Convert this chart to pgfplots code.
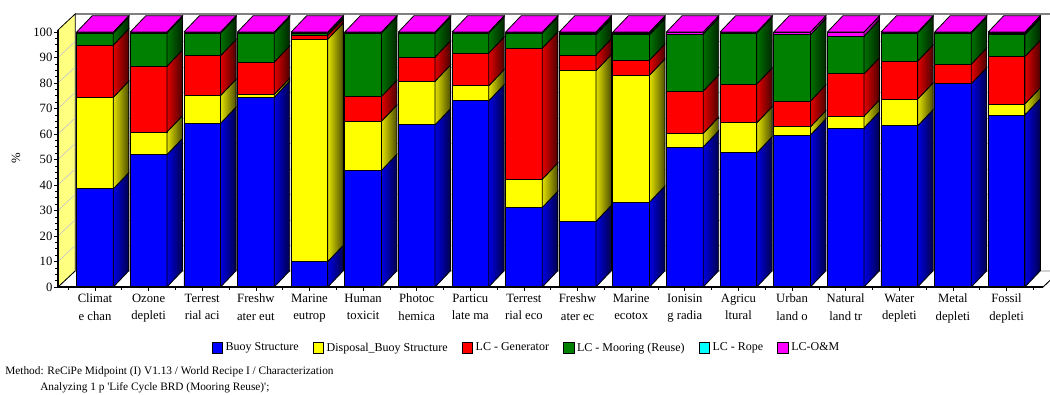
\documentclass[border=0pt]{standalone}
\usepackage{fontspec}
\setmainfont{Liberation Serif}
\usepackage{pgfplots}
\usepackage{pgfplotstable}
\pgfplotsset{compat=1.18}

\definecolor{cBuoy}{RGB}{0,0,255}
\definecolor{cDisp}{RGB}{255,255,0}
\definecolor{cGen}{RGB}{255,0,0}
\definecolor{cMoor}{RGB}{0,128,0}
\definecolor{cRope}{RGB}{0,255,255}
\definecolor{cOM}{RGB}{255,0,255}
\definecolor{wallyellow}{RGB}{255,255,128}
\definecolor{gridgray}{RGB}{200,200,200}
\definecolor{framegray}{RGB}{128,128,128}

% Characterization results, % of each impact category
\pgfplotstableread{
cat  bs    dbs   gen   moor  rope  om
0    38.5  35.9  20.5  4.7   0     0.4
1    51.9  8.9   25.8  13.0  0     0.4
2    64.2  10.9  15.6  8.9   0     0.4
3    74.4  1.1   12.7  11.4  0     0.4
4    10.0  87.2  1.6   0.8   0     0.4
5    45.7  19.3  9.7   24.9  0     0.4
6    63.6  17.1  9.5   9.4   0     0.4
7    73.0  5.9   12.8  7.9   0     0.4
8    31.2  11.1  51.4  5.9   0     0.4
9    25.7  59.1  6.2   7.9   0.7   0.4
10   33.3  49.8  5.9   9.9   0.7   0.4
11   54.9  5.3   16.6  22.4  0     0.8
12   52.6  11.8  15.2  20.0  0     0.4
13   59.6  3.2   10.1  26.0  0     1.1
14   62.4  4.6   16.6  14.8  0     1.6
15   63.2  10.5  14.9  11.0  0     0.4
16   79.7  0     7.7   12.2  0     0.4
17   67.5  4.3   18.6  8.5   0.5   0.6
}\lcadata

% bar half width and 3D depth (axis units)
\def\bw{0.342}
\def\dx{0.29}
\def\dy{6.4}

% one stacked segment: front face and shaded side face
\newcommand\stackseg[2]{%
  \pgfplotstablegetelem{\i}{#1}\of\lcadata
  \let\segval\pgfplotsretval
  \pgfmathsetmacro\ytop{\ybase+\segval}%
  \pgfmathsetmacro\ybb{\ybase+\dy}%
  \pgfmathsetmacro\ytb{\ytop+\dy}%
  \ifdim\segval pt>0.01pt
    \edef\temp{%
      \noexpand\addplot[forget plot, fill=#2, draw=black, line width=0.6pt]
        coordinates {(\xl,\ybase) (\xr,\ybase) (\xr,\ytop) (\xl,\ytop) (\xl,\ybase)};
      \noexpand\addplot[forget plot, left color=#2!88!black, right color=#2!30!black, draw=black, line width=0.6pt]
        coordinates {(\xr,\ybase) (\xs,\ybb) (\xs,\ytb) (\xr,\ytop) (\xr,\ybase)};
    }\temp
  \fi
  \let\ybase\ytop
}

\begin{document}
\begin{tikzpicture}
\useasboundingbox (0,0) rectangle (787.5pt,295.5pt);
\begin{axis}[
  at={(43.5pt,80.25pt)}, anchor=south west,
  scale only axis, width=738.75pt, height=192.75pt,
  xmin=-0.69, xmax=17.68, ymin=0, ymax=100.8,
  clip=false, axis on top,
  axis x line*=bottom, axis y line*=left,
  axis line style={line width=1.3pt, -},
  xtick={0,...,17},
  minor xtick={-0.5,0.5,...,17.5},
  xticklabels={{Climat\\e chan},{Ozone\\depleti},{Terrest\\rial aci},{Freshw\\ater eut},
    {Marine\\eutrop},{Human\\toxicit},{Photoc\\hemica},{Particu\\late ma},
    {Terrest\\rial eco},{Freshw\\ater ec},{Marine\\ecotox},{Ionisin\\g radia},
    {Agricu\\ltural},{Urban\\land o},{Natural\\land tr},{Water\\depleti},
    {Metal\\depleti},{Fossil\\depleti}},
  xticklabel style={font=\fontsize{9.5}{13}\selectfont, align=center, inner sep=1pt, yshift=-1pt},
  ytick={0,10,...,100}, minor y tick num=3,
  yticklabel style={font=\fontsize{9.5}{11}\selectfont, inner sep=1pt},
  /pgf/number format/assume math mode=true,
  tick align=outside, major tick length=3pt, minor tick length=2pt,
  tick style={black, line width=0.5pt},
  legend style={at={(0.476,-0.237)}, anchor=center, draw=none, fill=none,
    font=\fontsize{9}{11}\selectfont,
    /tikz/every even column/.append style={column sep=8.5pt}},
  legend columns=6,
  legend cell align=left,
  legend image code/.code={\draw[#1, line width=0.5pt] (0pt,-3.8pt) rectangle (8pt,4.2pt);},
]
% back wall grid and frame
\pgfplotsinvokeforeach{16.3,26.3,36.3,46.3,56.3,66.3,76.3,86.3,96.3}{
  \draw[gridgray, line width=0.5pt] (axis cs:-0.37,#1) -- (axis cs:17.62,#1);
}
\draw[framegray, line width=1.2pt] (axis cs:-0.37,107.1) -- (axis cs:18.2,107.1);
\draw[framegray, line width=0.6pt] (axis cs:17.62,6.3) -- (axis cs:17.62,107.1);
% floor
\filldraw[fill=white, draw=framegray, line width=0.6pt]
  (axis cs:-0.69,0) -- (axis cs:17.68,0) -- (axis cs:18.0,6.3) -- (axis cs:-0.37,6.3) -- cycle;
\draw[black, line width=0.6pt] (axis cs:17.68,0) -- (axis cs:18.0,6.3);
% left wall
\filldraw[fill=wallyellow, draw=black, line width=0.6pt]
  (axis cs:-0.69,0) -- (axis cs:-0.69,100.8) -- (axis cs:-0.37,107.1) -- (axis cs:-0.37,6.3) -- cycle;
\pgfplotsinvokeforeach{10,20,30,40,50,60,70,80,90}{
  \draw[gridgray, line width=0.5pt] (axis cs:-0.69,#1) -- (axis cs:-0.37,#1+6.3);
}
% stacked 3D bars
\pgfplotsforeachungrouped \i in {0,...,17}{%
  \pgfmathsetmacro\xl{\i-\bw}%
  \pgfmathsetmacro\xr{\i+\bw}%
  \pgfmathsetmacro\xs{\xr+\dx}%
  \pgfmathsetmacro\xt{\xl+\dx}%
  \def\ybase{0}%
  \stackseg{bs}{cBuoy}%
  \stackseg{dbs}{cDisp}%
  \stackseg{gen}{cGen}%
  \stackseg{moor}{cMoor}%
  \stackseg{rope}{cRope}%
  \stackseg{om}{cOM}%
  \pgfmathsetmacro\ytb{\ybase+\dy}%
  \edef\temp{\noexpand\addplot[forget plot, fill=cOM, draw=black, line width=0.6pt]
    coordinates {(\xl,\ybase) (\xr,\ybase) (\xs,\ytb) (\xt,\ytb) (\xl,\ybase)};}\temp
}
\addlegendimage{fill=cBuoy, draw=black}
\addlegendentry{Buoy Structure}
\addlegendimage{fill=cDisp, draw=black}
\addlegendentry{Disposal\_Buoy Structure}
\addlegendimage{fill=cGen, draw=black}
\addlegendentry{LC - Generator}
\addlegendimage{fill=cMoor, draw=black}
\addlegendentry{LC - Mooring (Reuse)}
\addlegendimage{fill=cRope, draw=black}
\addlegendentry{LC - Rope}
\addlegendimage{fill=cOM, draw=black}
\addlegendentry{LC-O\&M}
\end{axis}
\begin{scope}[x=0.75pt, y=-0.75pt, shift={(0pt,295.5pt)}]
\node[rotate=90, font=\fontsize{9.5}{11}\selectfont] at (16,158) {\%};
\node[anchor=west, inner sep=0pt, font=\fontsize{8.5}{10}\selectfont] at (5,372)
  {Method: ReCiPe Midpoint (I) V1.13 / World Recipe I / Characterization};
\node[anchor=west, inner sep=0pt, font=\fontsize{8.5}{10}\selectfont] at (40,388)
  {Analyzing 1 p \textquotesingle Life Cycle BRD (Mooring Reuse)\textquotesingle ;};
\end{scope}
\end{tikzpicture}
\end{document}
